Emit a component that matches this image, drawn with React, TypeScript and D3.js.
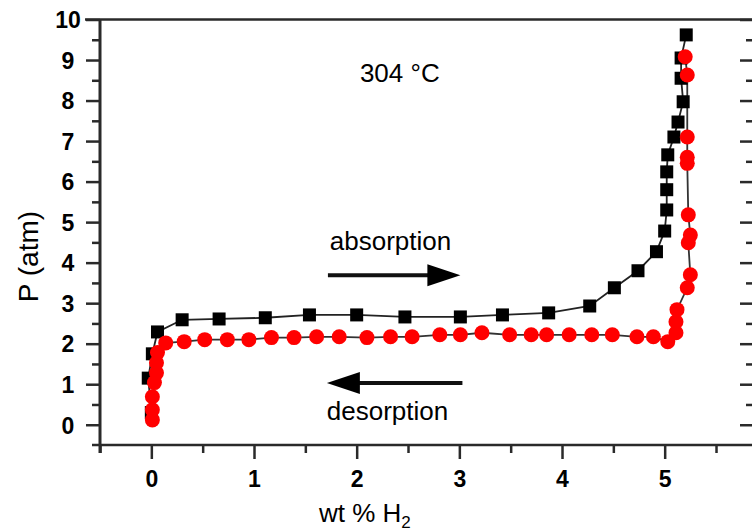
import React, { useEffect, useRef } from 'react'
import * as d3 from 'd3'

// absorption isotherm (black squares)
const absWt = [0.0, -0.03, 0.01, 0.06, 0.3, 0.66, 1.11, 1.54, 2.0, 2.47, 3.01, 3.42, 3.87, 4.27, 4.51, 4.74, 4.92, 5.0, 5.02, 5.02, 5.02, 5.03, 5.09, 5.13, 5.18, 5.16, 5.16, 5.21]
const absP = [0.3, 1.15, 1.75, 2.29, 2.59, 2.61, 2.64, 2.71, 2.71, 2.66, 2.66, 2.71, 2.76, 2.93, 3.38, 3.8, 4.27, 4.78, 5.3, 5.8, 6.24, 6.66, 7.1, 7.47, 7.97, 8.55, 9.05, 9.62]

// desorption isotherm (red circles)
const desWt = [5.2, 5.22, 5.22, 5.22, 5.22, 5.23, 5.25, 5.23, 5.25, 5.22, 5.12, 5.11, 5.11, 5.03, 4.89, 4.73, 4.49, 4.29, 4.07, 3.85, 3.7, 3.49, 3.22, 3.01, 2.81, 2.54, 2.33, 2.1, 1.83, 1.61, 1.39, 1.17, 0.95, 0.74, 0.52, 0.32, 0.14, 0.06, 0.05, 0.05, 0.03, 0.01, 0.01, 0.01]
const desP = [9.08, 8.63, 7.1, 6.6, 6.45, 5.18, 4.68, 4.49, 3.7, 3.38, 2.84, 2.54, 2.27, 2.05, 2.17, 2.17, 2.22, 2.22, 2.22, 2.22, 2.22, 2.22, 2.27, 2.22, 2.22, 2.17, 2.17, 2.15, 2.17, 2.17, 2.15, 2.15, 2.1, 2.1, 2.1, 2.05, 2.02, 1.78, 1.53, 1.28, 1.04, 0.69, 0.37, 0.12]

const xTicks = [0, 1, 2, 3, 4, 5]
const xMinor = [-0.5, 0.5, 1.5, 2.5, 3.5, 4.5, 5.5]
const yTicks = [0, 1, 2, 3, 4, 5, 6, 7, 8, 9, 10]
const yMinor = [0.5, 1.5, 2.5, 3.5, 4.5, 5.5, 6.5, 7.5, 8.5, 9.5]

const W = 752, H = 531
const FONT = '"Liberation Sans", Arial, sans-serif'
const AXIS = '#2a2a2a'

export default function App() {
    const ref = useRef<SVGSVGElement>(null)

    useEffect(() => {
        const svg = d3.select(ref.current)
        svg.selectAll('*').remove()

        const x = d3.scaleLinear().domain([-0.5, 5.87]).range([100, 754])
        const y = d3.scaleLinear().domain([-0.5, 10]).range([445, 19.5])

        const styleAxis = (g: any) => {
            g.select('.domain').remove()
            g.selectAll('.tick line').attr('stroke', AXIS).attr('stroke-width', 2.5)
        }

        // left axis: major + minor ticks
        svg.append('g')
            .attr('transform', `translate(${x(-0.5)},0)`)
            .call(d3.axisLeft(y).tickValues(yMinor).tickSize(8).tickFormat(() => ''))
            .call(styleAxis)
        const yAx = svg.append('g')
            .attr('transform', `translate(${x(-0.5)},0)`)
            .call(d3.axisLeft(y).tickValues(yTicks).tickSize(14).tickPadding(0).tickFormat(d3.format('d')))
            .call(styleAxis)
        yAx.selectAll('.tick text')
            .attr('x', -32)
            .attr('dy', '0.36em')
            .attr('text-anchor', 'middle')
            .style('font-family', FONT)
            .style('font-size', '23px')
            .style('font-weight', 'bold')
            .attr('fill', '#000')

        // right axis: inward ticks
        svg.append('g')
            .attr('transform', `translate(${x(5.87)},0)`)
            .call(d3.axisRight(y).tickValues(yMinor).tickSize(-8).tickFormat(() => ''))
            .call(styleAxis)
        svg.append('g')
            .attr('transform', `translate(${x(5.87)},0)`)
            .call(d3.axisRight(y).tickValues(yTicks).tickSize(-14).tickFormat(() => ''))
            .call(styleAxis)

        // bottom axis
        svg.append('g')
            .attr('transform', `translate(0,${y(-0.5)})`)
            .call(d3.axisBottom(x).tickValues(xMinor).tickSize(8).tickFormat(() => ''))
            .call(styleAxis)
        const xAx = svg.append('g')
            .attr('transform', `translate(0,${y(-0.5)})`)
            .call(d3.axisBottom(x).tickValues(xTicks).tickSize(14).tickFormat(d3.format('d')))
            .call(styleAxis)
        xAx.selectAll('.tick text')
            .attr('y', 42)
            .attr('dy', 0)
            .style('font-family', FONT)
            .style('font-size', '23px')
            .style('font-weight', 'bold')
            .attr('fill', '#000')

        // frame lines
        svg.append('line')
            .attr('x1', x(-0.5)).attr('x2', x(-0.5))
            .attr('y1', y(10)).attr('y2', y(-0.5) + 8)
            .attr('stroke', AXIS).attr('stroke-width', 3)
        svg.append('line')
            .attr('x1', 85).attr('x2', W)
            .attr('y1', y(10)).attr('y2', y(10))
            .attr('stroke', AXIS).attr('stroke-width', 2.5)
        svg.append('line')
            .attr('x1', 92).attr('x2', W)
            .attr('y1', y(-0.5)).attr('y2', y(-0.5))
            .attr('stroke', AXIS).attr('stroke-width', 2.5)

        // curves
        const absData = absWt.map((w, i) => [w, absP[i]])
        const desData = desWt.map((w, i) => [w, desP[i]])
        const line = d3.line<number[]>().x(d => x(d[0])).y(d => y(d[1]))

        svg.append('path').datum(absData)
            .attr('d', line).attr('fill', 'none')
            .attr('stroke', '#222').attr('stroke-width', 1.8)
        svg.append('path').datum(desData)
            .attr('d', line).attr('fill', 'none')
            .attr('stroke', '#333').attr('stroke-width', 1.8)

        const sq = 13
        svg.append('g').selectAll('rect')
            .data(absData)
            .join('rect')
            .attr('x', d => x(d[0]) - sq / 2)
            .attr('y', d => y(d[1]) - sq / 2)
            .attr('width', sq).attr('height', sq)
            .attr('fill', '#000')

        svg.append('g').selectAll('circle')
            .data(desData)
            .join('circle')
            .attr('cx', d => x(d[0]))
            .attr('cy', d => y(d[1]))
            .attr('r', 7.5)
            .attr('fill', '#ff0000')

        // annotations
        const label = (t: string, wx: number, py: number) =>
            svg.append('text')
                .attr('x', x(wx)).attr('y', y(py))
                .attr('text-anchor', 'middle')
                .style('font-family', FONT)
                .style('font-size', '26px')
                .attr('fill', '#000')
                .text(t)

        label('304 °C', 2.42, 8.46)
        label('absorption', 2.33, 4.31)
        label('desorption', 2.3, 0.12)

        const arrow = (from: number, to: number, p: number) => {
            const dir = Math.sign(to - from)
            const tipX = x(to), baseX = tipX - dir * 33, yy = y(p)
            svg.append('line')
                .attr('x1', x(from)).attr('x2', baseX + dir * 2)
                .attr('y1', yy).attr('y2', yy)
                .attr('stroke', '#111').attr('stroke-width', 4)
            svg.append('path')
                .attr('d', `M${tipX},${yy} L${baseX},${yy - 11} L${baseX},${yy + 11} Z`)
                .attr('fill', '#000')
        }
        arrow(1.72, 3.01, 3.69)
        arrow(3.03, 1.71, 1.03)

        // axis titles
        svg.append('text')
            .attr('transform', `translate(38,${y(4.15)}) rotate(-90)`)
            .attr('text-anchor', 'middle')
            .style('font-family', FONT)
            .style('font-size', '28px')
            .attr('fill', '#000')
            .text('P (atm)')

        const xt = svg.append('text')
            .attr('x', x(2.08)).attr('y', 522)
            .attr('text-anchor', 'middle')
            .style('font-family', FONT)
            .style('font-size', '26px')
            .attr('fill', '#000')
        xt.append('tspan').text('wt % H')
        xt.append('tspan').attr('dy', 6).style('font-size', '17px').text('2')
    }, [])

    return (
        <svg ref={ref} width={W} height={H}
            style={{ position: 'absolute', left: 0, top: 0, background: '#fff' }} />
    )
}
